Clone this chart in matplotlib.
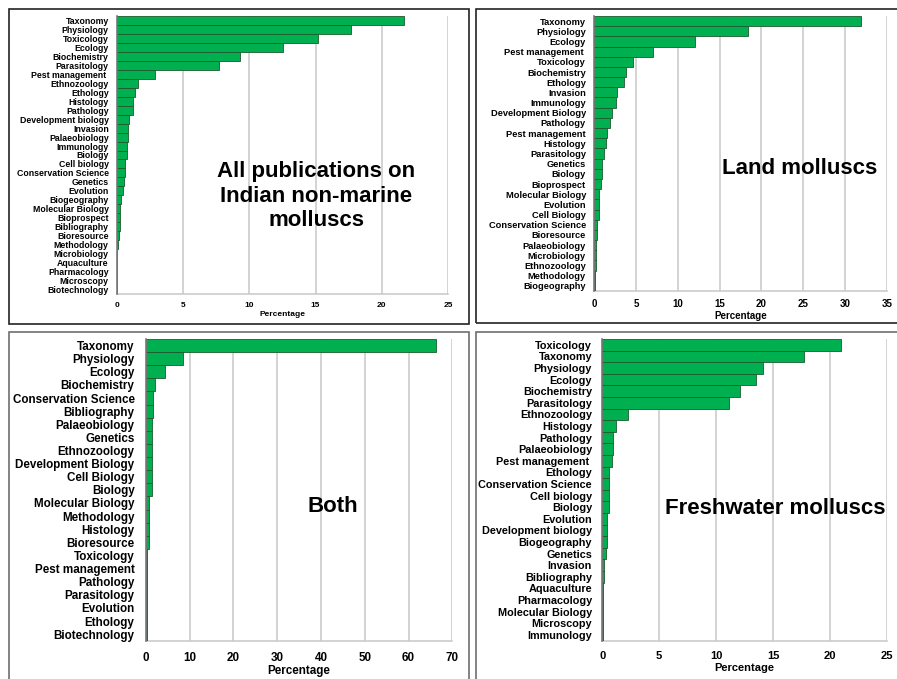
import matplotlib
matplotlib.use("Agg")
import matplotlib.pyplot as plt
from matplotlib.patches import Rectangle

plt.rcParams['font.family'] = ['Liberation Sans', 'DejaVu Sans']
plt.rcParams['font.weight'] = 'bold'

# All publications
all_cats = ["Taxonomy", "Physiology", "Toxicology", "Ecology", "Biochemistry",
            "Parasitology", "Pest management ", "Ethnozoology", "Ethology",
            "Histology", "Pathology", "Development biology", "Invasion",
            "Palaeobiology", "Immunology", "Biology", "Cell biology",
            "Conservation Science", "Genetics", "Evolution", "Biogeography",
            "Molecular Biology", "Bioprospect", "Bibliography", "Bioresource",
            "Methodology", "Microbiology", "Aquaculture", "Pharmacology",
            "Microscopy", "Biotechnology"]
all_vals = [21.7, 17.7, 15.2, 12.5, 9.27, 7.74, 2.89, 1.58, 1.36, 1.18, 1.18,
            0.93, 0.85, 0.80, 0.73, 0.73, 0.63, 0.60, 0.55, 0.48, 0.30, 0.20,
            0.20, 0.20, 0.13, 0.08, 0.03, 0.03, 0.03, 0.02, 0.02]

# Land molluscs
land_cats = ["Taxonomy", "Physiology", "Ecology", "Pest management ",
             "Toxicology", "Biochemistry", "Ethology", "Invasion", "Immunology",
             "Development Biology", "Pathology", "Pest management", "Histology",
             "Parasitology", "Genetics", "Biology", "Bioprospect",
             "Molecular Biology", "Evolution", "Cell Biology",
             "Conservation Science", "Bioresource", "Palaeobiology",
             "Microbiology", "Ethnozoology", "Methodology", "Biogeography"]
land_vals = [31.9, 18.4, 12.05, 7.06, 4.67, 3.83, 3.51, 2.71, 2.55, 2.07, 1.88,
             1.56, 1.36, 1.12, 0.92, 0.92, 0.76, 0.52, 0.52, 0.52, 0.28, 0.28,
             0.2, 0.2, 0.2, 0.12, 0.12]

# Both
both_cats = ["Taxonomy", "Physiology", "Ecology", "Biochemistry",
             "Conservation Science", "Bibliography", "Palaeobiology", "Genetics",
             "Ethnozoology", "Development Biology", "Cell Biology", "Biology",
             "Molecular Biology", "Methodology", "Histology", "Bioresource",
             "Toxicology", "Pest management", "Pathology", "Parasitology",
             "Evolution", "Ethology", "Biotechnology"]
both_vals = [66.3, 8.5, 4.4, 2.2, 1.67, 1.67, 1.37, 1.37, 1.37, 1.37, 1.37,
             1.37, 0.76, 0.76, 0.76, 0.76, 0.38, 0.38, 0.38, 0.38, 0.38, 0.38,
             0.38]

# Freshwater molluscs
fresh_cats = ["Toxicology", "Taxonomy", "Physiology", "Ecology", "Biochemistry",
              "Parasitology", "Ethnozoology", "Histology", "Pathology",
              "Palaeobiology", "Pest management ", "Ethology",
              "Conservation Science", "Cell biology", "Biology", "Evolution",
              "Development biology", "Biogeography", "Genetics", "Invasion",
              "Bibliography", "Aquaculture", "Pharmacology", "Molecular Biology",
              "Microscopy", "Immunology"]
fresh_vals = [20.95, 17.73, 14.16, 13.48, 12.13, 11.1, 2.23, 1.17, 0.97, 0.97,
              0.82, 0.56, 0.56, 0.56, 0.56, 0.38, 0.38, 0.38, 0.35, 0.18, 0.18,
              0.09, 0.05, 0.05, 0.05, 0.05]

W, H = 897, 679
fig = plt.figure(figsize=(W / 100, H / 100), dpi=100)


def px_axes(x0, y0, x1, y1):
    return fig.add_axes([x0 / W, 1 - y1 / H, (x1 - x0) / W, (y1 - y0) / H])


def frame(x0, y0, x1, y1, color):
    fig.patches.append(Rectangle((x0 / W, 1 - y1 / H), (x1 - x0) / W,
                                 (y1 - y0) / H, transform=fig.transFigure,
                                 fill=False, edgecolor=color, lw=1.2))


def panel(box, cats, vals, xmax, lab_fs, tick_fs, pad, title, tx, ty):
    ax = px_axes(*box)
    n = len(cats)
    ax.barh(range(n), vals, height=1.0, color='#00b050',
            edgecolor='#1d5a2c', linewidth=0.6, zorder=3)
    ax.set_ylim(n - 0.5, -0.5)
    ax.set_xlim(0, xmax)
    ax.set_xticks(range(0, xmax + 1, 5 if xmax <= 35 else 10))
    ax.set_yticks(range(n))
    ax.set_yticklabels(cats, fontsize=lab_fs, fontweight='bold')
    ax.tick_params(axis='y', length=0, pad=pad)
    ax.tick_params(axis='x', length=0, pad=pad, labelsize=tick_fs)
    for lab in ax.get_xticklabels():
        lab.set_fontweight('bold')
    ax.grid(axis='x', color='#c8c8c8', lw=1.1, zorder=0)
    for s in ['top', 'right']:
        ax.spines[s].set_visible(False)
    ax.spines['left'].set_color('#7a7a7a')
    ax.spines['left'].set_linewidth(1.2)
    ax.spines['left'].set_zorder(4)
    ax.spines['bottom'].set_color('#c8c8c8')
    ax.spines['bottom'].set_linewidth(1.1)
    ax.set_xlabel("Percentage", fontsize=tick_fs, fontweight='bold',
                  labelpad=1)
    fig.text(tx / W, 1 - ty / H, title, fontsize=16, fontweight='bold',
             ha='center', va='center', multialignment='center',
             linespacing=1.2)
    return ax


frame(9, 9, 469, 324, '#222222')
frame(475.5, 9, 905, 323, '#222222')
frame(9, 332, 469, 690, '#6e6e6e')
frame(475.5, 332, 905, 690, '#6e6e6e')

panel((117, 16, 448, 294), all_cats, all_vals, 25, 6.3, 6.0, 6,
      "All publications on\nIndian non-marine\nmolluscs", 316, 196)
panel((594.3, 16, 886.7, 291), land_cats, land_vals, 35, 6.7, 7.0, 6,
      "Land molluscs", 800, 168)
panel((145.7, 339, 452.3, 640.7), both_cats, both_vals, 70, 8.4, 8.4, 8,
      "Both", 333, 507)
panel((602.3, 339, 886.7, 640.7), fresh_cats, fresh_vals, 25, 7.8, 8.0, 7.5,
      "Freshwater molluscs", 775.5, 508)

fig.savefig("out.png", dpi=100)
